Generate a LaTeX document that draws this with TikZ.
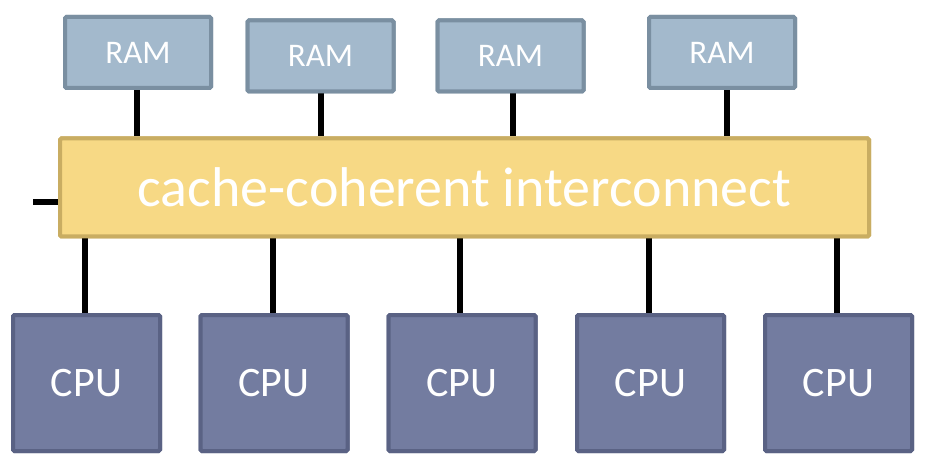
\documentclass[tikz,border=0pt]{standalone}
\usepackage{fontspec}
\setmainfont{Carlito}
\definecolor{ramfill}{HTML}{A3B9CC}
\definecolor{ramdraw}{HTML}{7A8FA1}
\definecolor{cpufill}{HTML}{737CA0}
\definecolor{cpudraw}{HTML}{5A6284}
\definecolor{icfill}{HTML}{F7D985}
\definecolor{icdraw}{HTML}{C9AD62}
\begin{document}
\begin{tikzpicture}[x=1pt,y=-1pt,
  rambox/.style={draw=ramdraw,fill=ramfill,line width=4pt,rounded corners=1.5pt,minimum width=146pt,minimum height=71pt,text=white,font=\fontsize{33}{38}\selectfont,inner sep=0pt},
  cpubox/.style={draw=cpudraw,fill=cpufill,line width=4pt,rounded corners=1.5pt,minimum width=147pt,minimum height=136pt,text=white,font=\fontsize{42}{48}\selectfont,inner sep=0pt},
  icbox/.style={draw=icdraw,fill=icfill,line width=4pt,rounded corners=1.5pt,minimum width=809pt,minimum height=98pt,text=white,font=\fontsize{56}{64}\selectfont,inner sep=0pt},
  wire/.style={line width=5.5pt,black}]
\useasboundingbox (0,0) rectangle (926,470);
% interconnect
\node[icbox] (ic) at (464.5,187.5) {cache-coherent interconnect};
% RAM
\node[rambox] (r1) at (138,52.5) {RAM};
\node[rambox] (r2) at (320.5,56) {RAM};
\node[rambox] (r3) at (510.5,56) {RAM};
\node[rambox] (r4) at (722,52.5) {RAM};
% CPUs
\node[cpubox] (c1) at (86.5,383) {CPU};
\node[cpubox] (c2) at (274,383) {CPU};
\node[cpubox] (c3) at (462,383) {CPU};
\node[cpubox] (c4) at (650.5,383) {CPU};
\node[cpubox] (c5) at (838.5,383) {CPU};
% wires
\draw[wire] (r1.south -| 137,0) -- (ic.north -| 137,0);
\draw[wire] (r2.south -| 321,0) -- (ic.north -| 321,0);
\draw[wire] (r3.south -| 513,0) -- (ic.north -| 513,0);
\draw[wire] (r4.south -| 727,0) -- (ic.north -| 727,0);
\draw[wire] (ic.south -| 85,0) -- (c1.north -| 85,0);
\draw[wire] (ic.south -| 273,0) -- (c2.north -| 273,0);
\draw[wire] (ic.south -| 460,0) -- (c3.north -| 460,0);
\draw[wire] (ic.south -| 649,0) -- (c4.north -| 649,0);
\draw[wire] (ic.south -| 837,0) -- (c5.north -| 837,0);
\coordinate (stub) at (33,202);
\draw[wire] (stub) -- (stub -| ic.west);
% redraw boxes on top of wires
\node[icbox] at (ic) {cache-coherent interconnect};
\node[rambox] at (r1) {RAM};
\node[rambox] at (r2) {RAM};
\node[rambox] at (r3) {RAM};
\node[rambox] at (r4) {RAM};
\node[cpubox] at (c1) {CPU};
\node[cpubox] at (c2) {CPU};
\node[cpubox] at (c3) {CPU};
\node[cpubox] at (c4) {CPU};
\node[cpubox] at (c5) {CPU};
\end{tikzpicture}
\end{document}
